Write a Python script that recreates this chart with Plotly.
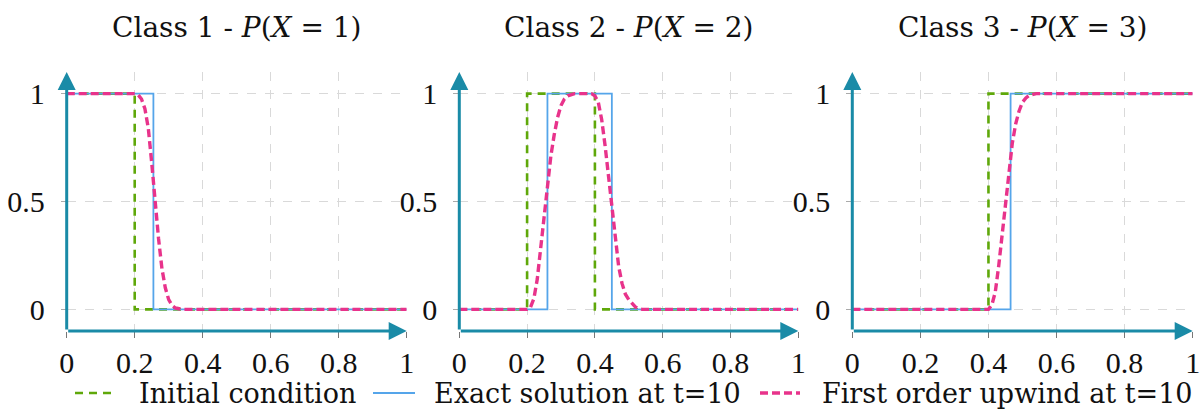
import plotly.graph_objects as go

# ---- data -------------------------------------------------------------
titles = ["Class 1 - <i>P</i>(<i>X</i> = 1)",
          "Class 2 - <i>P</i>(<i>X</i> = 2)",
          "Class 3 - <i>P</i>(<i>X</i> = 3)"]
series_names = ["Initial condition", "Exact solution at t=10", "First order upwind at t=10"]

# step functions (breakpoints, drawn with horizontal-then-vertical steps)
init_x = [[0, 0.2, 1], [0, 0.2, 0.4, 1], [0, 0.4, 1]]
init_y = [[1, 0, 0], [0, 1, 0, 0], [0, 1, 1]]
exact_x = [[0, 0.255, 1], [0, 0.26, 0.45, 1], [0, 0.465, 1]]
exact_y = [[1, 0, 0], [0, 1, 0, 0], [0, 1, 1]]

# numerical solution (first order upwind)
upw1_x = [0, 0.2, 0.21, 0.22, 0.23, 0.24, 0.25, 0.26, 0.27, 0.28, 0.29, 0.30, 0.31, 0.32, 0.33, 0.34, 1]
upw1_y = [1, 1, 0.995, 0.975, 0.93, 0.84, 0.68, 0.5, 0.33, 0.19, 0.10, 0.045, 0.018, 0.006, 0.002, 0, 0]
upw2_x = [0, 0.2, 0.21, 0.22, 0.23, 0.24, 0.25, 0.26, 0.27, 0.28, 0.29, 0.30, 0.31, 0.32, 0.33, 0.34,
          0.39, 0.40, 0.41, 0.42, 0.43, 0.44, 0.45, 0.46, 0.47, 0.48, 0.49, 0.50, 0.51, 0.52, 0.53, 0.54, 1]
upw2_y = [0, 0, 0.01, 0.05, 0.14, 0.28, 0.43, 0.58, 0.71, 0.81, 0.89, 0.945, 0.975, 0.99, 0.997, 1,
          1, 0.99, 0.96, 0.88, 0.76, 0.62, 0.47, 0.32, 0.20, 0.12, 0.07, 0.045, 0.025, 0.01, 0.003, 0, 0]
upw3_x = [0, 0.40, 0.41, 0.42, 0.43, 0.44, 0.45, 0.46, 0.47, 0.48, 0.49, 0.50, 0.51, 0.52, 0.53, 0.54, 1]
upw3_y = [0, 0, 0.02, 0.08, 0.20, 0.35, 0.50, 0.65, 0.77, 0.86, 0.92, 0.96, 0.98, 0.992, 0.998, 1, 1]
upw_x = [upw1_x, upw2_x, upw3_x]
upw_y = [upw1_y, upw2_y, upw3_y]

x_ticks = [0, 0.2, 0.4, 0.6, 0.8, 1]
x_ticklabels = ["0", "0.2", "0.4", "0.6", "0.8", "1"]
y_ticks = [0, 0.5, 1]
y_ticklabels = ["0", "0.5", "1"]

# ---- style ------------------------------------------------------------
GREEN = "#5fa80a"
BLUE = "#55a5ea"
PINK = "#e8338b"
AXIS = "#1a8ba7"
GRID = "#d9d9d9"
TEXT_FONT = "DejaVu Serif"
TICK_FONT = "Liberation Serif"
INK = "#111111"

line_styles = [
    dict(color=GREEN, width=2.6, dash="8px,6px"),
    dict(color=BLUE, width=1.8),
    dict(color=PINK, width=3.4, dash="8px,4px"),
]

W, H = 1204, 412
x_domains = [[66.7 / W, 406.7 / W], [459.3 / W, 798.3 / W], [852.3 / W, 1192.7 / W]]
y_domain = [1 - 330.9 / H, 1 - 72.1 / H]
X_RANGE = [0, 1]
Y_RANGE = [-0.1, 1.1]

fig = go.Figure()

for i in range(3):
    xa = "x" if i == 0 else f"x{i + 1}"
    ya = "y" if i == 0 else f"y{i + 1}"
    fig.add_trace(go.Scatter(
        x=init_x[i], y=init_y[i], mode="lines", line_shape="hv",
        line=line_styles[0], name=series_names[0], showlegend=False,
        xaxis=xa, yaxis=ya))
    fig.add_trace(go.Scatter(
        x=exact_x[i], y=exact_y[i], mode="lines", line_shape="hv",
        line=line_styles[1], name=series_names[1], showlegend=False,
        xaxis=xa, yaxis=ya))
    fig.add_trace(go.Scatter(
        x=upw_x[i], y=upw_y[i], mode="lines", line_shape="linear",
        line=line_styles[2], name=series_names[2], showlegend=False,
        xaxis=xa, yaxis=ya))

layout = dict(
    width=W, height=H,
    margin=dict(l=0, r=0, t=0, b=0, autoexpand=False),
    paper_bgcolor="white", plot_bgcolor="white",
    font=dict(family=TEXT_FONT, color=INK),
    showlegend=False,
)

annotations = []
shapes = []
for i in range(3):
    sfx = "" if i == 0 else str(i + 1)
    layout[f"xaxis{sfx}"] = dict(
        domain=x_domains[i], range=X_RANGE, anchor=f"y{sfx}",
        tickvals=x_ticks, ticktext=x_ticklabels, automargin=False,
        showgrid=True, gridcolor=GRID, griddash="dash", gridwidth=1,
        zeroline=False, showline=False,
        ticks="outside", ticklen=6, tickcolor="#777777", tickwidth=1,
        ticklabelstandoff=-1,
        tickfont=dict(family=TICK_FONT, size=30, color=INK),
        fixedrange=True)
    layout[f"yaxis{sfx}"] = dict(
        domain=y_domain, range=Y_RANGE, anchor=f"x{sfx}",
        tickvals=y_ticks, ticktext=y_ticklabels, automargin=False,
        showgrid=True, gridcolor=GRID, griddash="dash", gridwidth=1,
        zeroline=False, showline=False,
        ticks="outside", ticklen=5, tickcolor="#aaaaaa", tickwidth=1,
        ticklabelstandoff=10,
        tickfont=dict(family=TICK_FONT, size=30, color=INK),
        fixedrange=True)
    xr = "x" if i == 0 else f"x{i + 1}"
    yr = "y" if i == 0 else f"y{i + 1}"
    # horizontal axis arrow
    annotations.append(dict(
        x=X_RANGE[1], y=Y_RANGE[0], ax=X_RANGE[0], ay=Y_RANGE[0],
        xref=xr, yref=yr, axref=xr, ayref=yr, text="",
        showarrow=True, arrowhead=2, arrowsize=1.2, arrowwidth=3, arrowcolor=AXIS,
        standoff=0, startstandoff=0))
    # vertical axis arrow
    annotations.append(dict(
        x=X_RANGE[0], y=Y_RANGE[1], ax=X_RANGE[0], ay=Y_RANGE[0],
        xref=xr, yref=yr, axref=xr, ayref=yr, text="",
        showarrow=True, arrowhead=2, arrowsize=1.2, arrowwidth=3, arrowcolor=AXIS,
        standoff=0, startstandoff=0))
    # panel title
    annotations.append(dict(
        x=sum(x_domains[i]) / 2, y=1 - 28 / H, xref="paper", yref="paper",
        xanchor="center", yanchor="middle", showarrow=False, text=titles[i],
        font=dict(family=TEXT_FONT, size=28, color=INK)))

# legend row along the bottom: sample line followed by its label
legend_sample_px = [(75, 117), (373, 415), (760, 800)]
legend_text_px = [137, 432, 820]
legend_y = 1 - 393 / H
for k in range(3):
    x0, x1 = legend_sample_px[k]
    shapes.append(dict(
        type="line", xref="paper", yref="paper",
        x0=x0 / W, x1=x1 / W, y0=legend_y, y1=legend_y,
        line=line_styles[k]))
    annotations.append(dict(
        x=legend_text_px[k] / W, y=legend_y, xref="paper", yref="paper",
        xanchor="left", yanchor="middle", showarrow=False, text=series_names[k],
        font=dict(family=TEXT_FONT, size=27, color=INK)))

layout["annotations"] = annotations
layout["shapes"] = shapes
fig.update_layout(**layout)

fig.write_html("out.html")
